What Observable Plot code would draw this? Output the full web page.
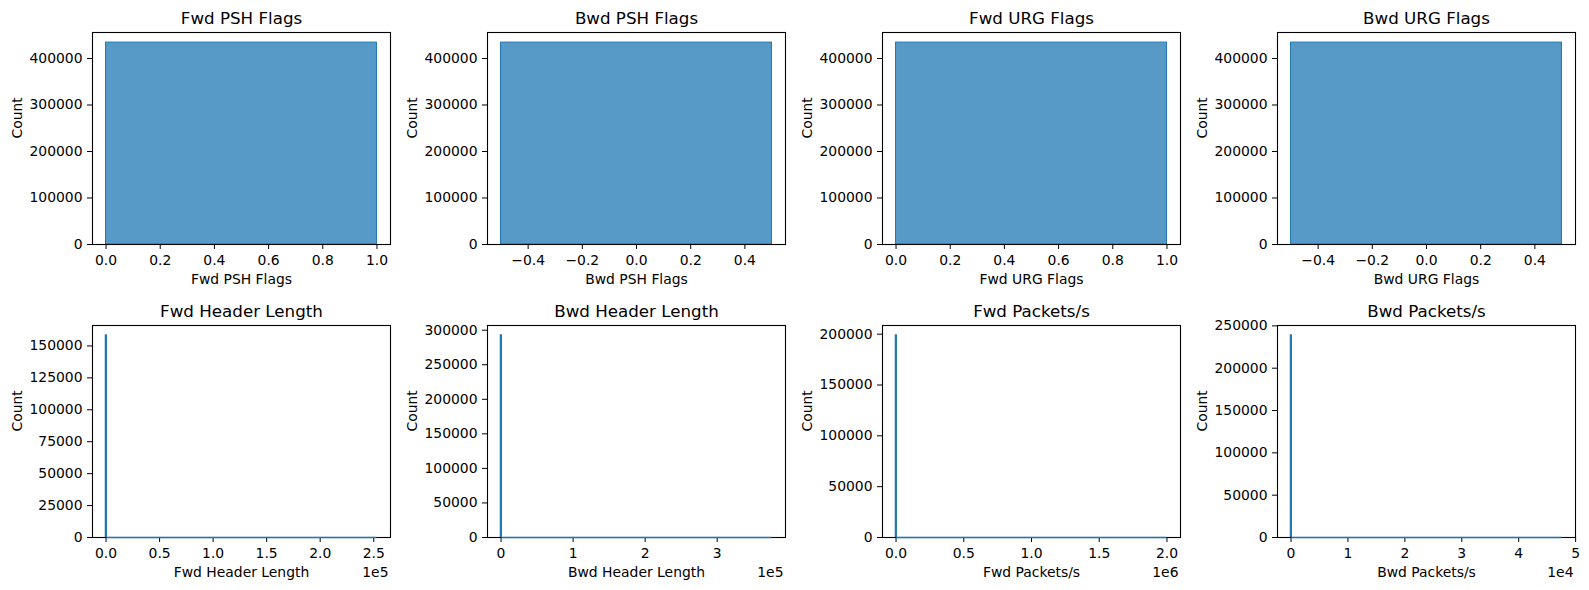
<!DOCTYPE html>
<html>
<head>
<meta charset="utf-8">
<script src="https://cdn.jsdelivr.net/npm/d3@7"></script>
<script src="https://cdn.jsdelivr.net/npm/@observablehq/plot@0.6"></script>
<style>
  html, body { margin: 0; padding: 0; background: #fff; }
  #grid { position: relative; width: 1589px; height: 590px; overflow: hidden; font-family: "DejaVu Sans", sans-serif; }
  #grid > svg, #grid > figure { position: absolute; margin: 0; }
</style>
</head>
<body>
<div id="grid"></div>
<script>
// Feature names, one histogram per feature
const features = [
  "Fwd PSH Flags", "Bwd PSH Flags", "Fwd URG Flags", "Bwd URG Flags",
  "Fwd Header Length", "Bwd Header Length", "Fwd Packets/s", "Bwd Packets/s"
];

// Tallest bin of each histogram: its edges and count
const peakBinStart = [0, -0.5, 0, -0.5, 0, 0, 0, 0];
const peakBinEnd   = [1, 0.5, 1, 0.5, 600, 900, 4500, 110];
const peakCounts   = [434200, 434200, 434200, 434200, 158100, 292200, 198600, 238500];

// Largest observed value (the remaining bins are nearly empty up to here)
const rangeMax = [1, 0.5, 1, 0.5, 253000, 376000, 2000000, 47600];

// Y tick values
const yTicks = [
  [0, 100000, 200000, 300000, 400000],
  [0, 100000, 200000, 300000, 400000],
  [0, 100000, 200000, 300000, 400000],
  [0, 100000, 200000, 300000, 400000],
  [0, 25000, 50000, 75000, 100000, 125000, 150000],
  [0, 50000, 100000, 150000, 200000, 250000, 300000],
  [0, 50000, 100000, 150000, 200000],
  [0, 50000, 100000, 150000, 200000, 250000]
];

// X tick values and their labels
const xTicks = [
  [0, 0.2, 0.4, 0.6, 0.8, 1.0],
  [-0.4, -0.2, 0, 0.2, 0.4],
  [0, 0.2, 0.4, 0.6, 0.8, 1.0],
  [-0.4, -0.2, 0, 0.2, 0.4],
  [0, 50000, 100000, 150000, 200000, 250000],
  [0, 100000, 200000, 300000],
  [0, 500000, 1000000, 1500000, 2000000],
  [0, 10000, 20000, 30000, 40000, 50000]
];
const xTickLabels = [
  ["0.0", "0.2", "0.4", "0.6", "0.8", "1.0"],
  ["\u22120.4", "\u22120.2", "0.0", "0.2", "0.4"],
  ["0.0", "0.2", "0.4", "0.6", "0.8", "1.0"],
  ["\u22120.4", "\u22120.2", "0.0", "0.2", "0.4"],
  ["0.0", "0.5", "1.0", "1.5", "2.0", "2.5"],
  ["0", "1", "2", "3"],
  ["0.0", "0.5", "1.0", "1.5", "2.0"],
  ["0", "1", "2", "3", "4", "5"]
];
const offsetLabels = ["", "", "", "", "1e5", "1e5", "1e6", "1e4"];

const blue = "#1f77b4";
const grid = document.getElementById("grid");

features.forEach((name, i) => {
  const col = i % 4, row = Math.floor(i / 4);
  const lo = peakBinStart[i], hi = rangeMax[i];
  const pad = (hi - lo) * 0.05;
  const yMax = peakCounts[i] * 1.05;
  const labelOf = new Map(xTicks[i].map((t, k) => [t, xTickLabels[i][k]]));
  const bins = [{x1: peakBinStart[i], x2: peakBinEnd[i], count: peakCounts[i]}];
  const bottomRow = row === 1;

  const marks = [
    Plot.rect(bins, {
      x1: "x1", x2: "x2", y1: 0, y2: "count",
      fill: blue, fillOpacity: 0.75,
      stroke: blue, strokeWidth: bottomRow ? 1.6 : 1
    }),
    Plot.frame({stroke: "black", strokeWidth: 1.1}),
    Plot.axisX({ticks: xTicks[i], tickFormat: d => labelOf.get(d), tickSize: 5, tickPadding: 6, label: null, fontSize: 13.9}),
    Plot.axisY({ticks: yTicks[i], tickFormat: d => String(d), tickSize: 5, tickPadding: 5, label: null, fontSize: 13.9}),
    Plot.text([name], {text: d => d, frameAnchor: "top", lineAnchor: "bottom", dy: -8.3, fontSize: 16.7}),
    Plot.text([name], {text: d => d, frameAnchor: "bottom", lineAnchor: "bottom", dy: 39.5, fontSize: 13.9}),
    Plot.text(["Count"], {text: d => d, frameAnchor: "left", rotate: -90, dx: -75, fontSize: 13.9})
  ];
  if (bottomRow) {
    // the long run of nearly empty bins past the first one
    marks.push(Plot.ruleY([0], {x1: peakBinEnd[i], x2: rangeMax[i], stroke: blue, strokeWidth: 1.6}));
    marks.push(Plot.text([offsetLabels[i]], {text: d => d, frameAnchor: "bottom-right", textAnchor: "end", lineAnchor: "bottom", dy: 39.5, dx: -2, fontSize: 13.9}));
  }

  const chart = Plot.plot({
    width: 395,
    height: 295,
    marginLeft: 92,
    marginRight: 5,
    marginTop: 32,
    marginBottom: 51,
    style: {fontFamily: "DejaVu Sans", color: "black", background: "transparent", overflow: "visible"},
    x: {domain: [lo - pad, hi + pad]},
    y: {domain: [0, yMax]},
    marks
  });
  chart.style.left = (col * 395 + 0.3) + "px";
  chart.style.top = (row === 0 ? 0.3 : 293.3) + "px";
  grid.appendChild(chart);
});
</script>
</body>
</html>
